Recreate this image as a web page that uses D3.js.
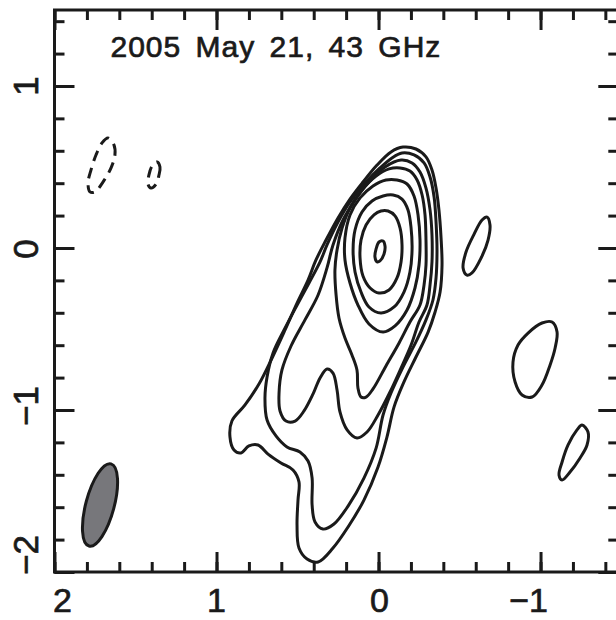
<!DOCTYPE html>
<html>
<head>
<meta charset="utf-8">
<script src="https://cdn.jsdelivr.net/npm/d3@7"></script>
<style>
    body { margin: 0; background: #fff; }
    svg text { font-family: "Liberation Sans", Arial, sans-serif; fill: #1a1a1a; stroke: #1a1a1a; stroke-width: 0.7px; }
</style>
</head>
<body>
<div id="chart-area"></div>
<script>
// Relative RA / Dec offsets (mas)
const xTicksMajor = [2, 1, 0, -1];
const yTicksMajor = [1, 0, -1, -2];
const xTickLabels = ["2", "1", "0", "\u22121"];
const yTickLabels = ["1", "0", "\u22121", "\u22122"];
const title = "2005 May 21, 43 GHz";

// positive contours, outermost first
const level1 = [[-0.151,0.623],[-0.231,0.611],[-0.293,0.562],[-0.330,0.481],[-0.355,0.370],[-0.373,0.235],[-0.386,0.062],[-0.392,-0.105],[-0.380,-0.272],[-0.349,-0.395],[-0.306,-0.519],[-0.231,-0.673],[-0.157,-0.827],[-0.096,-0.981],[-0.052,-1.167],[0.003,-1.352],[0.090,-1.556],[0.188,-1.722],[0.281,-1.852],[0.373,-1.938],[0.441,-1.920],[0.491,-1.852],[0.503,-1.710],[0.497,-1.556],[0.491,-1.444],[0.528,-1.370],[0.602,-1.327],[0.682,-1.272],[0.744,-1.216],[0.800,-1.222],[0.849,-1.265],[0.892,-1.247],[0.917,-1.166],[0.905,-1.068],[0.824,-0.969],[0.738,-0.840],[0.657,-0.679],[0.577,-0.506],[0.503,-0.340],[0.435,-0.198],[0.386,-0.074],[0.324,0.049],[0.250,0.185],[0.176,0.302],[0.096,0.407],[0.009,0.512],[-0.077,0.593]];
const level2 = [[-0.145,0.586],[-0.219,0.574],[-0.281,0.525],[-0.318,0.438],[-0.343,0.315],[-0.355,0.160],[-0.361,-0.012],[-0.355,-0.185],[-0.336,-0.321],[-0.293,-0.444],[-0.231,-0.580],[-0.151,-0.735],[-0.077,-0.895],[-0.028,-1.031],[0.015,-1.235],[0.090,-1.420],[0.188,-1.593],[0.275,-1.704],[0.343,-1.735],[0.392,-1.691],[0.410,-1.586],[0.410,-1.420],[0.435,-1.315],[0.485,-1.259],[0.565,-1.228],[0.633,-1.160],[0.688,-1.062],[0.701,-0.926],[0.688,-0.796],[0.651,-0.648],[0.583,-0.506],[0.509,-0.364],[0.429,-0.216],[0.361,-0.086],[0.318,0.019],[0.250,0.160],[0.176,0.284],[0.083,0.401],[-0.009,0.494],[-0.083,0.556]];
const level3 = [[-0.139,0.543],[-0.207,0.525],[-0.256,0.469],[-0.293,0.370],[-0.318,0.235],[-0.330,0.080],[-0.330,-0.086],[-0.318,-0.228],[-0.299,-0.352],[-0.250,-0.457],[-0.201,-0.599],[-0.139,-0.741],[-0.071,-0.889],[0.003,-1.031],[0.071,-1.136],[0.133,-1.173],[0.194,-1.123],[0.238,-1.012],[0.256,-0.877],[0.281,-0.772],[0.318,-0.747],[0.361,-0.802],[0.404,-0.901],[0.460,-1.006],[0.515,-1.068],[0.571,-1.068],[0.608,-1.006],[0.614,-0.895],[0.596,-0.753],[0.540,-0.605],[0.454,-0.444],[0.373,-0.290],[0.318,-0.123],[0.281,0.019],[0.219,0.173],[0.145,0.296],[0.059,0.407],[-0.040,0.500]];
const level4 = [[-0.133,0.494],[-0.194,0.475],[-0.238,0.420],[-0.269,0.327],[-0.287,0.204],[-0.293,0.049],[-0.293,-0.105],[-0.281,-0.228],[-0.256,-0.352],[-0.194,-0.457],[-0.127,-0.586],[-0.046,-0.728],[0.034,-0.870],[0.077,-0.920],[0.108,-0.920],[0.127,-0.864],[0.133,-0.753],[0.164,-0.660],[0.207,-0.556],[0.244,-0.432],[0.262,-0.290],[0.269,-0.136],[0.256,-0.012],[0.225,0.123],[0.176,0.247],[0.102,0.358],[0.015,0.444],[-0.065,0.488]];
const level5 = [[-0.114,0.420],[-0.176,0.395],[-0.219,0.321],[-0.244,0.204],[-0.256,0.049],[-0.250,-0.105],[-0.225,-0.247],[-0.176,-0.383],[-0.102,-0.481],[-0.028,-0.519],[0.059,-0.469],[0.127,-0.352],[0.176,-0.216],[0.207,-0.074],[0.207,0.062],[0.176,0.204],[0.114,0.309],[0.034,0.383],[-0.046,0.420]];
const level6 = [[-0.090,0.327],[-0.145,0.302],[-0.182,0.235],[-0.201,0.123],[-0.207,-0.012],[-0.194,-0.148],[-0.157,-0.272],[-0.096,-0.364],[-0.015,-0.401],[0.059,-0.364],[0.108,-0.272],[0.145,-0.148],[0.157,-0.012],[0.145,0.111],[0.102,0.222],[0.040,0.290],[-0.028,0.321]];
const level7 = [[-0.059,0.228],[-0.102,0.198],[-0.133,0.123],[-0.145,0.019],[-0.139,-0.086],[-0.114,-0.185],[-0.065,-0.259],[-0.003,-0.278],[0.052,-0.247],[0.096,-0.173],[0.114,-0.062],[0.108,0.049],[0.077,0.142],[0.028,0.204],[-0.015,0.228]];
const level8 = [[-0.028,0.043],[-0.040,0.012],[-0.034,-0.037],[-0.009,-0.080],[0.009,-0.086],[0.022,-0.056],[0.015,-0.006],[-0.003,0.037]];

// isolated lowest-level islands to the west
const islandA = [[-0.670,0.191],[-0.688,0.142],[-0.676,0.049],[-0.633,-0.062],[-0.577,-0.154],[-0.546,-0.167],[-0.522,-0.123],[-0.540,-0.025],[-0.590,0.086],[-0.639,0.173]];
const islandB = [[-1.071,-0.457],[-1.102,-0.519],[-1.090,-0.617],[-1.059,-0.722],[-1.009,-0.846],[-0.948,-0.920],[-0.886,-0.907],[-0.843,-0.827],[-0.830,-0.704],[-0.861,-0.599],[-0.923,-0.525],[-1.009,-0.463]];
const islandC = [[-1.256,-1.093],[-1.293,-1.136],[-1.287,-1.216],[-1.244,-1.296],[-1.182,-1.383],[-1.133,-1.432],[-1.114,-1.401],[-1.133,-1.321],[-1.170,-1.216],[-1.225,-1.123]];

// negative (dashed) contours
const negative1 = [[1.670,0.679],[1.633,0.636],[1.627,0.574],[1.651,0.494],[1.701,0.407],[1.750,0.346],[1.781,0.346],[1.793,0.401],[1.775,0.481],[1.744,0.574],[1.707,0.648]];
const negative2 = [[1.367,0.531],[1.349,0.500],[1.355,0.451],[1.373,0.395],[1.404,0.370],[1.423,0.395],[1.417,0.451],[1.398,0.506]];

// restoring beam: centre (mas), major/minor FWHM (mas), position angle (deg)
const beamCenter = [1.719, -1.586];
const beamAxes = [0.525, 0.175];
const beamPA = -15;

const svgWidth = 616;
const svgHeight = 620;
const margin = { top: 10, left: 54.5 };
const width = 563.8;
const height = 562;

const svg = d3
    .select("#chart-area")
    .append("svg")
    .attr("width", svgWidth)
    .attr("height", svgHeight);

const g = svg
    .append("g")
    .attr("transform", `translate(${margin.left}, ${margin.top})`);

//Scales (RA increases to the left)
const xScale = d3.scaleLinear().domain([2, -1.48]).range([0, width]);
const yScale = d3.scaleLinear().domain([-2, 1.469]).range([height, 0]);

const xMinor = d3.range(-7, 11).map((d) => d / 5);
const yMinor = d3.range(-10, 8).map((d) => d / 5);

//Ticks, pointing inward on all four sides
// (axisBottom placed on the top edge, axisTop on the bottom edge, etc.)
const tickAxes = [
    { axis: d3.axisBottom, scale: xScale, at: [0, 0] },
    { axis: d3.axisTop, scale: xScale, at: [0, height] },
    { axis: d3.axisRight, scale: yScale, at: [0, 0] },
    { axis: d3.axisLeft, scale: yScale, at: [width, 0] },
];

tickAxes.forEach((t) => {
    const isX = t.scale === xScale;
    [
        { values: isX ? xMinor : yMinor, size: 10 },
        { values: isX ? xTicksMajor : yTicksMajor, size: 20 },
    ].forEach((set) => {
        const ax = t
            .axis(t.scale)
            .tickValues(set.values)
            .tickSize(set.size)
            .tickFormat("");
        const a = g
            .append("g")
            .attr("transform", `translate(${t.at[0]}, ${t.at[1]})`)
            .call(ax);
        a.select(".domain").remove();
        a.selectAll("line").attr("stroke", "#1a1a1a").attr("stroke-width", 3);
    });
});

// frame
g.append("rect")
    .attr("width", width)
    .attr("height", height)
    .attr("fill", "none")
    .attr("stroke", "#1a1a1a")
    .attr("stroke-width", 3);

//Labels
const xLabelShift = [8, 0, 1, -12];
g.selectAll(".x-label")
    .data(xTicksMajor)
    .enter()
    .append("text")
    .attr("class", "x-label")
    .attr("x", (d, i) => xScale(d) + xLabelShift[i])
    .attr("y", height + 40)
    .attr("text-anchor", "middle")
    .attr("font-size", "34px")
    .text((d, i) => xTickLabels[i]);

const yLabelShift = [0, 1, -4, -17];
g.selectAll(".y-label")
    .data(yTicksMajor)
    .enter()
    .append("text")
    .attr("class", "y-label")
    .attr("transform", (d, i) => `translate(${-17}, ${yScale(d) + yLabelShift[i]}) rotate(-90)`)
    .attr("text-anchor", "middle")
    .attr("font-size", "35px")
    .text((d, i) => yTickLabels[i]);

g.append("text")
    .attr("x", 56)
    .attr("y", 47)
    .attr("font-size", "30px")
    .attr("letter-spacing", "1px")
    .attr("word-spacing", "5px")
    .text(title);

//Contours
const contourLine = d3
    .line()
    .x((d) => xScale(d[0]))
    .y((d) => yScale(d[1]))
    .curve(d3.curveCatmullRomClosed.alpha(0.5));

const positive = [level1, level2, level3, level4, level5, level6, level7, level8, islandA, islandB, islandC];
const negative = [negative1, negative2];

g.selectAll(".pos")
    .data(positive)
    .enter()
    .append("path")
    .attr("class", "pos")
    .attr("d", contourLine)
    .attr("fill", "none")
    .attr("stroke", "#1a1a1a")
    .attr("stroke-width", 3)
    .attr("stroke-linejoin", "round");

g.selectAll(".neg")
    .data(negative)
    .enter()
    .append("path")
    .attr("class", "neg")
    .attr("d", contourLine)
    .attr("fill", "none")
    .attr("stroke", "#1a1a1a")
    .attr("stroke-width", 3)
    .attr("stroke-dasharray", "11 7");

// Beam
const beamPx = xScale(0) - xScale(1);
g.append("ellipse")
    .attr("cx", xScale(beamCenter[0]))
    .attr("cy", yScale(beamCenter[1]))
    .attr("rx", (beamAxes[1] / 2) * beamPx)
    .attr("ry", (beamAxes[0] / 2) * beamPx)
    .attr("transform", `rotate(${-beamPA}, ${xScale(beamCenter[0])}, ${yScale(beamCenter[1])})`)
    .attr("fill", "#77777b")
    .attr("stroke", "#1a1a1a")
    .attr("stroke-width", 3);
</script>
</body>
</html>
